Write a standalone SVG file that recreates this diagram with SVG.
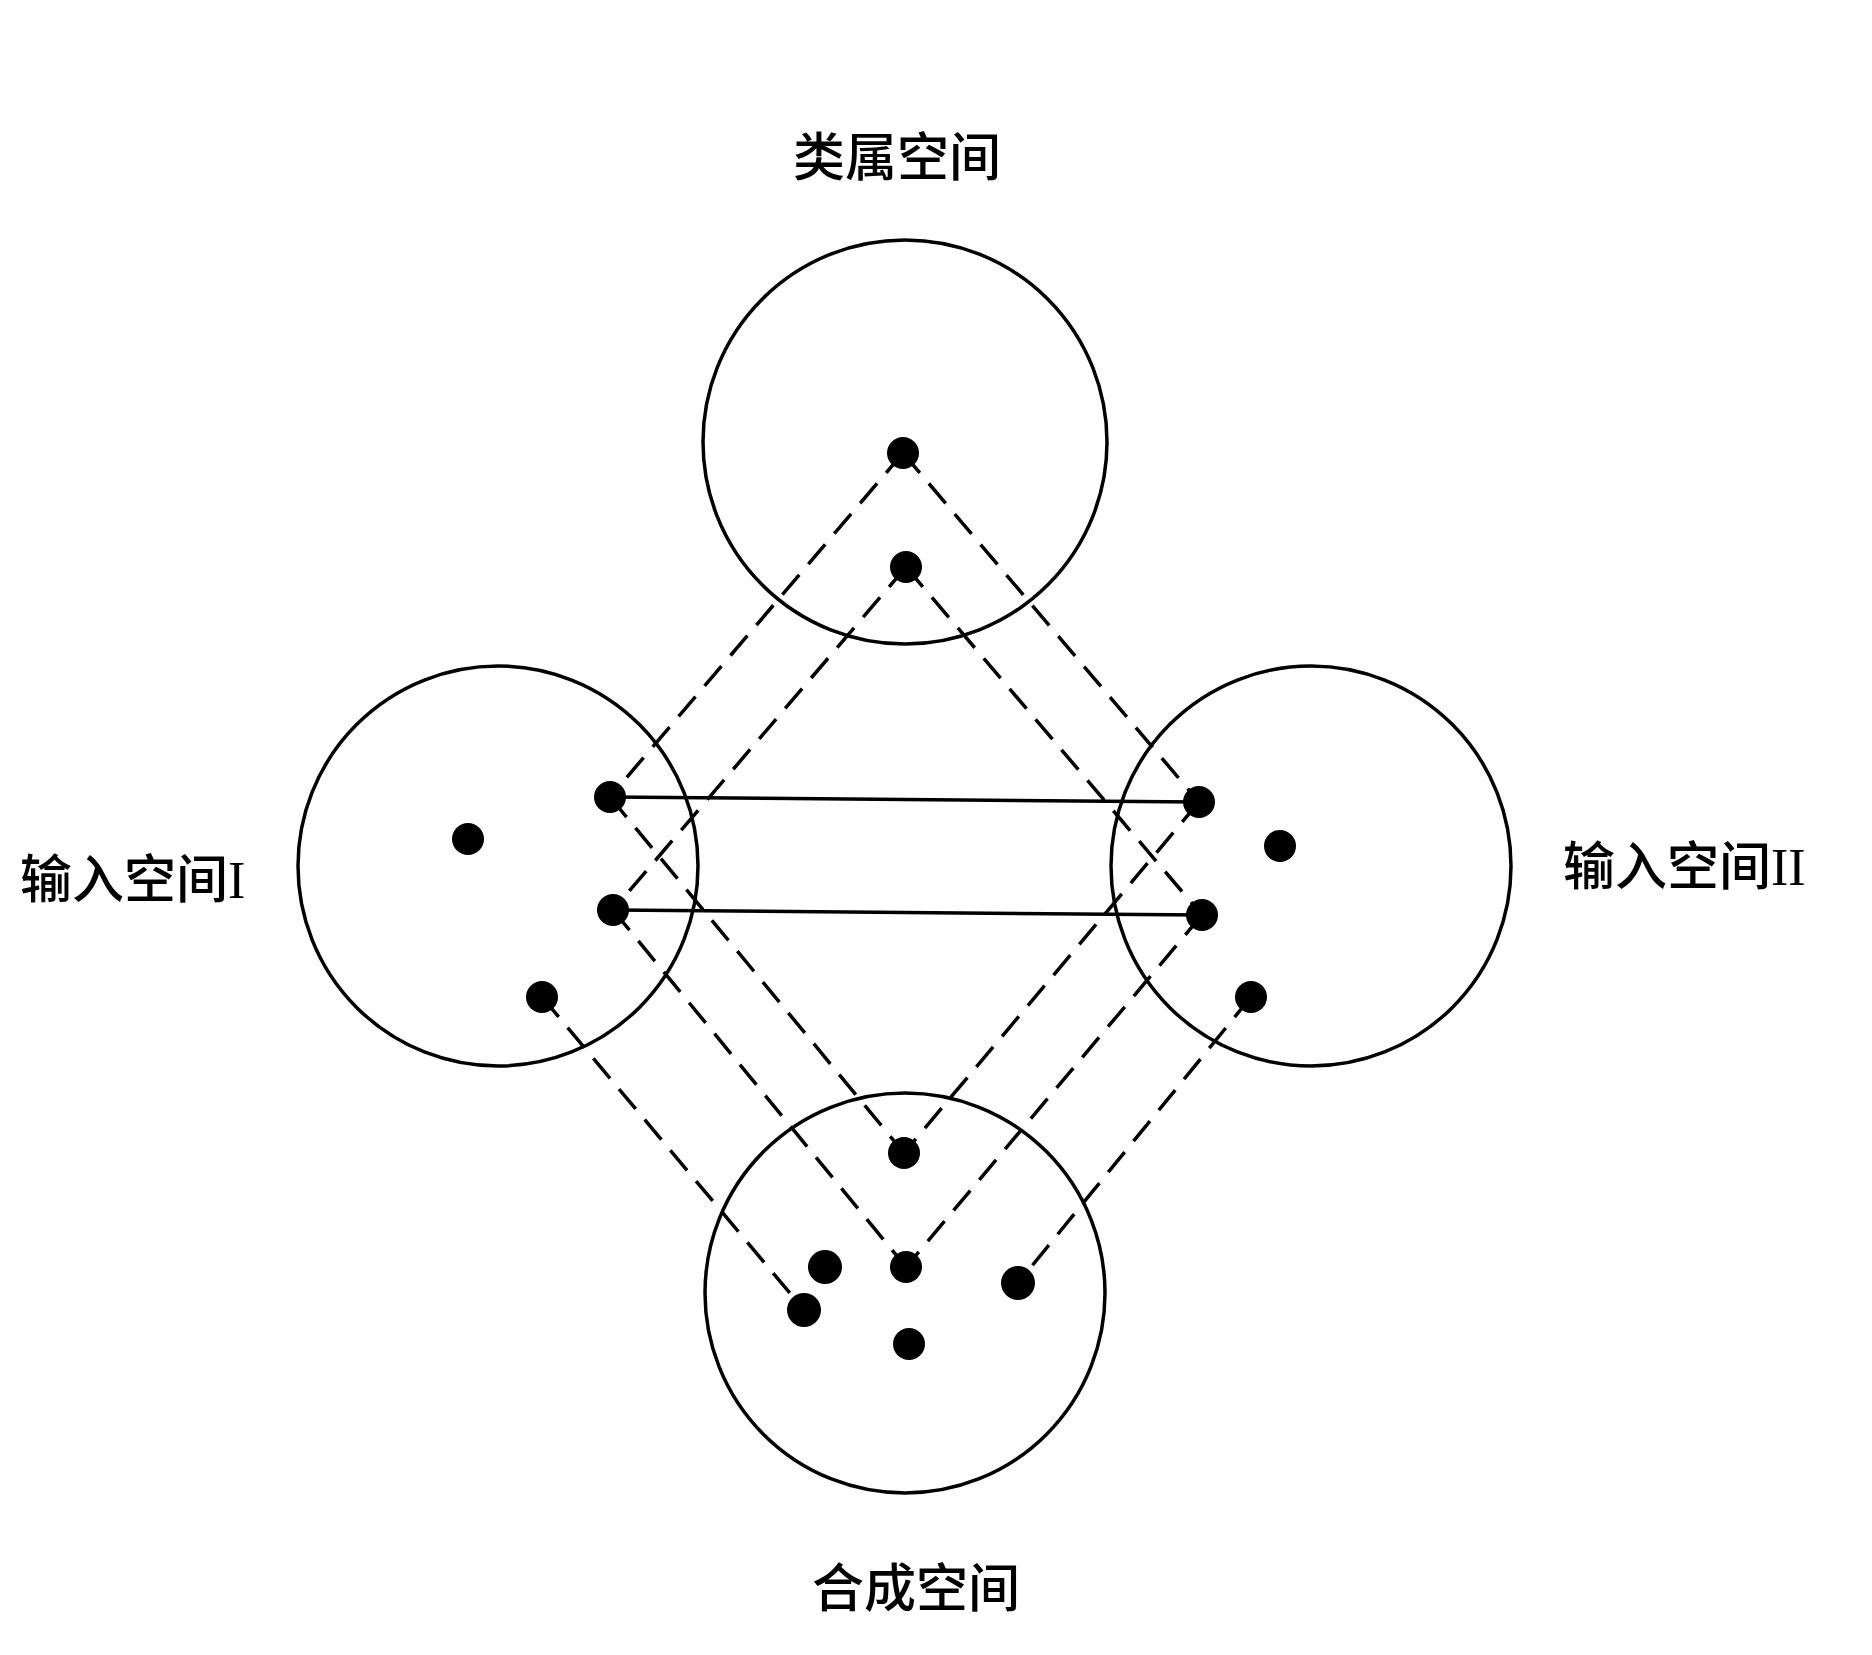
<svg xmlns="http://www.w3.org/2000/svg" width="1872" height="1655" viewBox="0 0 1872 1655">
<style>
.space{fill:none;stroke:#000;stroke-width:3.5}
.dot{fill:#000}
.map{stroke:#000;stroke-width:3.5;stroke-dasharray:26 14;fill:none}
.link{stroke:#000;stroke-width:3.5;fill:none}
.label{font-family:"Liberation Serif","Noto Sans CJK SC",serif;font-size:52px;font-weight:500;fill:#000}
</style>
<rect width="1872" height="1655" fill="#fff"/>
<g id="connectors">
<line class="link" x1="610" y1="797" x2="1199" y2="802"/>
<line class="link" x1="613" y1="910" x2="1202" y2="915"/>
<line class="map" x1="903" y1="453" x2="610" y2="797"/>
<line class="map" x1="906" y1="567" x2="613" y2="910"/>
<line class="map" x1="903" y1="453" x2="1199" y2="802"/>
<line class="map" x1="906" y1="567" x2="1202" y2="915"/>
<line class="map" x1="610" y1="797" x2="904" y2="1153"/>
<line class="map" x1="613" y1="910" x2="906" y2="1267"/>
<line class="map" x1="1199" y1="802" x2="904" y2="1153"/>
<line class="map" x1="1202" y1="915" x2="906" y2="1267"/>
<line class="map" x1="542" y1="997" x2="804" y2="1310"/>
<line class="map" x1="1251" y1="997" x2="1018" y2="1283"/>
</g>
<g id="generic">
<circle class="space" cx="905" cy="442" r="202"/>
<circle class="dot" cx="903" cy="453" r="16"/>
<circle class="dot" cx="906" cy="567" r="16"/>
<text class="label" x="793" y="176">类属空间</text>
</g>
<g id="input1">
<circle class="space" cx="498" cy="866" r="200"/>
<circle class="dot" cx="468" cy="839" r="16"/>
<circle class="dot" cx="610" cy="797" r="16"/>
<circle class="dot" cx="613" cy="910" r="16"/>
<circle class="dot" cx="542" cy="997" r="16"/>
<text class="label" x="20" y="898">输入空间I</text>
</g>
<g id="input2">
<circle class="space" cx="1311" cy="866" r="200"/>
<circle class="dot" cx="1199" cy="802" r="16"/>
<circle class="dot" cx="1280" cy="846" r="16"/>
<circle class="dot" cx="1202" cy="915" r="16"/>
<circle class="dot" cx="1251" cy="997" r="16"/>
<text class="label" x="1563" y="885">输入空间II</text>
</g>
<g id="blend">
<circle class="space" cx="905" cy="1293" r="200"/>
<circle class="dot" cx="904" cy="1153" r="16"/>
<circle class="dot" cx="825" cy="1267" r="17"/>
<circle class="dot" cx="906" cy="1267" r="16"/>
<circle class="dot" cx="804" cy="1310" r="17"/>
<circle class="dot" cx="1018" cy="1283" r="17"/>
<circle class="dot" cx="909" cy="1344" r="16"/>
<text class="label" x="812" y="1607">合成空间</text>
</g>
</svg>
